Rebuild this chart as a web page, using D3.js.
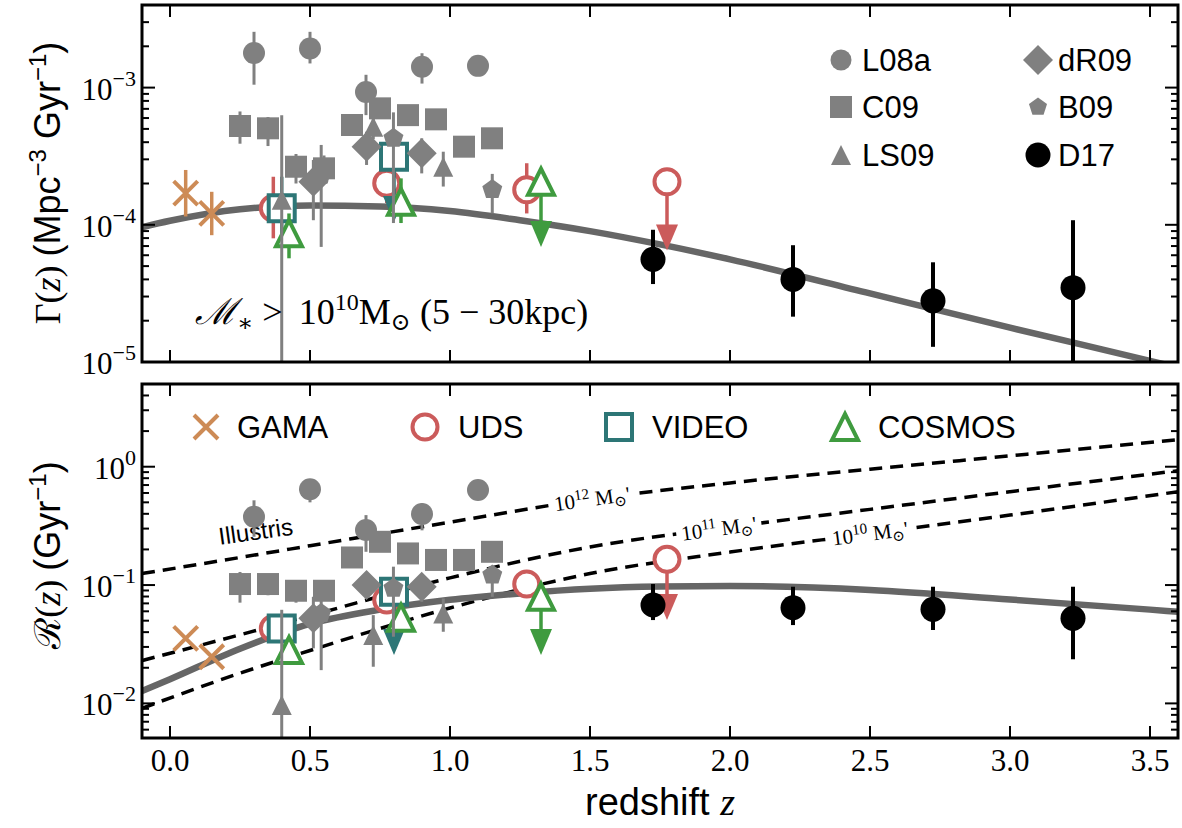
<!DOCTYPE html>
<html>
<head>
<meta charset="utf-8">
<script src="https://cdn.jsdelivr.net/npm/d3@7"></script>
<style>
  body { margin: 0; background: #fff; }
  svg { display: block; }
</style>
</head>
<body>
<svg id="chart" width="1182" height="828"></svg>
<script>
// Merger rate density (top) and merger rate (bottom) vs redshift.
// Rows are [z, value, errLow, errHigh]; null means no visible error bar.

// Literature points (grey)
const l08a_top = [[0.30, 1.79e-3, 1.05e-3, 2.55e-3], [0.50, 1.93e-3, 1.50e-3, 2.55e-3], [0.70, 9.3e-4, 6.3e-4, 1.24e-3], [0.90, 1.42e-3, 1.07e-3, 1.78e-3], [1.10, 1.44e-3, null, null]];
const l08a_bot = [[0.30, 0.378, 0.256, 0.52], [0.50, 0.644, 0.50, 0.70], [0.70, 0.292, 0.191, 0.39], [0.90, 0.398, 0.29, 0.49], [1.10, 0.636, null, null]];
const c09_top = [[0.25, 5.25e-4, 3.9e-4, 6.7e-4], [0.35, 5.05e-4, 3.75e-4, 6.1e-4], [0.45, 2.65e-4, 2.0e-4, 3.28e-4], [0.55, 2.58e-4, 2.0e-4, 3.2e-4], [0.65, 5.34e-4, null, null], [0.75, 7.06e-4, null, null], [0.85, 6.3e-4, null, null], [0.95, 5.87e-4, null, null], [1.05, 3.71e-4, null, null], [1.15, 4.27e-4, null, null]];
const c09_bot = [[0.25, 0.102, 0.071, 0.129], [0.35, 0.102, 0.082, 0.12], [0.45, 0.0895, 0.071, 0.1], [0.55, 0.0895, null, null], [0.65, 0.171, null, null], [0.75, 0.232, null, null], [0.85, 0.185, null, null], [0.95, 0.163, null, null], [1.05, 0.163, null, null], [1.15, 0.191, 0.17, 0.2]];
const ls09_top = [[0.399, 1.52e-4, 5e-6, 6.3e-4], [0.726, 5.19e-4, 4.2e-4, 6.6e-4], [0.976, 2.65e-4, 1.9e-4, 3.41e-4]];
const ls09_bot = [[0.399, 0.0097, 1e-3, 0.0618], [0.726, 0.0378, 0.0204, 0.0557], [0.976, 0.0576, 0.0403, 0.077]];
const dr09_top = [[0.512, 2.06e-4, 1.08e-4, 2.97e-4], [0.702, 3.71e-4, 2.73e-4, 4.77e-4], [0.899, 3.32e-4, 2.37e-4, 4.27e-4]];
const dr09_bot = [[0.512, 0.0523, 0.0292, 0.0796], [0.702, 0.100, 0.08, 0.12], [0.899, 0.0968, 0.0723, 0.115]];
const b09_top = [[0.54, 2.3e-4, 6.9e-5, 3.82e-4], [0.798, 4.27e-4, 1.03e-4, 6.6e-4], [1.151, 1.81e-4, 1.21e-4, 2.35e-4]];
const b09_bot = [[0.54, 0.0576, 0.0191, 0.0907], [0.798, 0.0938, 0.0366, 0.143], [1.151, 0.1216, 0.0796, 0.135]];

// This work (black)
const d17_top = [[1.725, 5.6e-5, 3.7e-5, 9.2e-5], [2.225, 4.0e-5, 2.14e-5, 7.1e-5], [2.725, 2.79e-5, 1.29e-5, 5.33e-5], [3.225, 3.48e-5, 5e-6, 1.08e-4]];
const d17_bot = [[1.725, 0.0678, 0.0506, 0.102], [2.225, 0.0643, 0.0459, 0.0968], [2.725, 0.0623, 0.0417, 0.0968], [3.225, 0.0523, 0.0236, 0.0968]];

// Survey points (coloured, open)
const gama_top = [[0.056, 1.70e-4, 1.15e-4, 2.51e-4], [0.149, 1.21e-4, 8.4e-5, 1.74e-4]];
const gama_bot = [[0.056, 0.0354, null, null], [0.149, 0.0248, null, null]];
const uds_top = [[0.369, 1.32e-4, 7.97e-5, 2.24e-4], [0.774, 2.01e-4, 1.44e-4, 2.6e-4], [1.274, 1.80e-4, 1.21e-4, 2.81e-4]];
const uds_bot = [[0.369, 0.043, null, null], [0.774, 0.0747, null, null], [1.274, 0.102, null, null]];
const video_top = [[0.399, 1.32e-4, 8e-5, 2.24e-4]];
const video_bot = [[0.399, 0.043, null, null]];
const cosmos_top = [[0.425, 8.66e-5, 5.7e-5, 1.21e-4], [0.825, 1.47e-4, 1.03e-4, 2.18e-4]];
const cosmos_bot = [[0.425, 0.0282, null, null], [0.825, 0.053, null, null]];

// Upper limits: [z, value, arrow tip]
const uds_lim_top = [[1.775, 2.06e-4, 6.5e-5]];
const uds_lim_bot = [[1.775, 0.165, 0.0506]];
const video_lim_top = [[0.80, 3.13e-4, 1.05e-4]];
const video_lim_bot = [[0.80, 0.0877, 0.0256]];
const cosmos_lim_top = [[1.325, 2.06e-4, 6.9e-5]];
const cosmos_lim_bot = [[1.325, 0.0796, 0.0256]];

// Best-fit curves
const fitZ = [-0.1, 0.0, 0.25, 0.5, 0.75, 1.0, 1.25, 1.5, 1.75, 2.0, 2.5, 3.0, 3.5, 3.6];
const fitGamma = [9.6e-5, 1.07e-4, 1.30e-4, 1.38e-4, 1.36e-4, 1.26e-4, 1.08e-4, 9.0e-5, 7.2e-5, 5.6e-5, 3.16e-5, 1.78e-5, 1.02e-5, 9.1e-6];
const fitRate = [0.0127, 0.0160, 0.029, 0.047, 0.062, 0.075, 0.085, 0.093, 0.097, 0.098, 0.091, 0.0755, 0.062, 0.0595];

// Illustris merger rates
const illZ = [-0.1, 0.25, 0.5, 1.0, 1.5, 2.0, 2.5, 3.0, 3.6];
const ill12 = [0.125, 0.171, 0.215, 0.34, 0.53, 0.73, 0.953, 1.236, 1.69];
const ill11 = [0.023, 0.038, 0.055, 0.115, 0.21, 0.309, 0.436, 0.615, 0.925];
const ill10 = [0.0091, 0.018, 0.028, 0.064, 0.125, 0.19, 0.272, 0.39, 0.615];
const illLabels = [["12", 1.507], ["11", 1.96], ["10", 2.50]];

const xTicks = [0.0, 0.5, 1.0, 1.5, 2.0, 2.5, 3.0, 3.5];

// Colours
const grey = "#808080";
const c_gama = "#cd8b56", c_uds = "#cb5b5b", c_video = "#2d7676", c_cosmos = "#3f9b3f";

const SANS = "'Liberation Sans', Arial, Helvetica, sans-serif";
const SERIF = "'Liberation Serif', 'DejaVu Serif', serif";

const X0 = 142, X1 = 1178;
const x = d3.scaleLinear().domain([-0.1, 3.6]).range([X0, X1]);
const yTop = d3.scaleLog().domain([1e-5, 4e-3]).range([362, 5]);
const yBot = d3.scaleLog().domain([5.1e-3, 5.0]).range([738, 384]);

const svg = d3.select("#chart");

// marker shapes, s = half size
const shapes = {
    circle: s => `M${s},0A${s},${s} 0 1,1 ${-s},0A${s},${s} 0 1,1 ${s},0Z`,
    square: s => `M${-s},${-s}H${s}V${s}H${-s}Z`,
    diamond: s => `M0,${-s}L${s},0L0,${s}L${-s},0Z`,
    triUp: s => `M0,${-s}L${s},${s}L${-s},${s}Z`,
    pentagon: s => d3.range(5).map(i => {
        const a = -Math.PI / 2 + i * 2 * Math.PI / 5;
        return (i ? "L" : "M") + (s * Math.cos(a)).toFixed(2) + "," + (s * Math.sin(a)).toFixed(2);
    }).join("") + "Z",
    cross: s => `M${-s},${-s}L${s},${s}M${-s},${s}L${s},${-s}`
};

function marker(g, cx, cy, st) {
    const open = st.open;
    g.append("path")
        .attr("d", shapes[st.shape](st.size))
        .attr("transform", `translate(${cx},${cy})`)
        .attr("fill", st.shape === "cross" ? "none" : (open ? "#fff" : st.color))
        .attr("stroke", (open || st.shape === "cross") ? st.color : "none")
        .attr("stroke-width", st.sw || 0);
}

function series(g, y, data, st) {
    data.forEach(d => {
        if (d[2] != null) {
            g.append("line")
                .attr("x1", x(d[0])).attr("x2", x(d[0]))
                .attr("y1", y(d[2])).attr("y2", y(d[3]))
                .attr("stroke", st.color).attr("stroke-width", st.ew || 3);
        }
    });
    data.forEach(d => marker(g, x(d[0]), y(d[1]), st));
}

function limits(g, y, data, st) {
    data.forEach(d => {
        const cx = x(d[0]), tip = y(d[2]);
        g.append("line")
            .attr("x1", cx).attr("x2", cx)
            .attr("y1", y(d[1])).attr("y2", tip - 20)
            .attr("stroke", st.color).attr("stroke-width", 3.5);
        g.append("path")
            .attr("d", `M${cx},${tip}L${cx - 11},${tip - 26}L${cx + 11},${tip - 26}Z`)
            .attr("fill", st.color);
    });
    data.forEach(d => marker(g, x(d[0]), y(d[1]), st));
}

const st = {
    l08a: { shape: "circle", size: 11, color: grey, ew: 3 },
    c09: { shape: "square", size: 11, color: grey, ew: 3 },
    ls09: { shape: "triUp", size: 10, color: grey, ew: 3 },
    dr09: { shape: "diamond", size: 15, color: grey, ew: 3 },
    b09: { shape: "pentagon", size: 10.5, color: grey, ew: 3 },
    d17: { shape: "circle", size: 12.5, color: "#000", ew: 4 },
    gama: { shape: "cross", size: 12, color: c_gama, sw: 4, ew: 3.5 },
    uds: { shape: "circle", size: 12.5, color: c_uds, open: true, sw: 4, ew: 3.5 },
    video: { shape: "square", size: 13, color: c_video, open: true, sw: 4, ew: 3.5 },
    cosmos: { shape: "triUp", size: 13, color: c_cosmos, open: true, sw: 4, ew: 3.5 }
};

function logTicks(scale) {
    const [a, b] = scale.domain();
    const out = [];
    for (let e = Math.floor(Math.log10(a)); e <= Math.ceil(Math.log10(b)); e++) {
        for (let k = 1; k < 10; k++) {
            const v = k * Math.pow(10, e);
            if (v >= a * 0.999 && v <= b * 1.001) out.push({ v, major: k === 1, e });
        }
    }
    return out;
}

function makePanel(id, y, showX) {
    const [yb, yt] = y.range();
    svg.append("clipPath").attr("id", id)
        .append("rect").attr("x", X0).attr("y", yt).attr("width", X1 - X0).attr("height", yb - yt);
    const plot = svg.append("g").attr("clip-path", `url(#${id})`);
    const axes = svg.append("g");

    // x ticks, inward on top and bottom
    xTicks.forEach(t => {
        [[yb, -12], [yt, 12]].forEach(([yy, len]) => {
            axes.append("line").attr("x1", x(t)).attr("x2", x(t)).attr("y1", yy).attr("y2", yy + len)
                .attr("stroke", "#000").attr("stroke-width", 2);
        });
        if (showX) {
            axes.append("text").attr("x", x(t)).attr("y", yb + 33)
                .attr("text-anchor", "middle").attr("font-family", SERIF).attr("font-size", 31)
                .text(t.toFixed(1));
        }
    });

    // y ticks, inward on left and right
    logTicks(y).forEach(t => {
        const len = t.major ? 13 : 7;
        [[X0, len], [X1, -len]].forEach(([xx, l]) => {
            axes.append("line").attr("x1", xx).attr("x2", xx + l).attr("y1", y(t.v)).attr("y2", y(t.v))
                .attr("stroke", "#000").attr("stroke-width", 2);
        });
        if (t.major) {
            const txt = axes.append("text").attr("x", X0 - 6).attr("y", y(t.v) + 12)
                .attr("text-anchor", "end").attr("font-family", SERIF).attr("font-size", 31);
            txt.append("tspan").text("10");
            txt.append("tspan").attr("dy", -14).attr("font-size", 22).text(t.e === 0 ? "0" : "\u2212" + (-t.e));
        }
    });

    axes.append("rect").attr("x", X0).attr("y", yt).attr("width", X1 - X0).attr("height", yb - yt)
        .attr("fill", "none").attr("stroke", "#000").attr("stroke-width", 3);
    return plot;
}

const pTop = makePanel("clipTop", yTop, false);
const pBot = makePanel("clipBot", yBot, true);

// Illustris dashed curves (bottom)
function interpLog(zs, vs, z) {
    const i = Math.max(0, Math.min(zs.length - 2, d3.bisectRight(zs, z) - 1));
    const t = (z - zs[i]) / (zs[i + 1] - zs[i]);
    return Math.pow(10, Math.log10(vs[i]) + t * (Math.log10(vs[i + 1]) - Math.log10(vs[i])));
}
const illLine = d3.line().x(d => x(d[0])).y(d => yBot(d[1])).curve(d3.curveMonotoneX);
[ill12, ill11, ill10].forEach(vals => {
    pBot.append("path").attr("d", illLine(illZ.map((z, i) => [z, vals[i]])))
        .attr("fill", "none").attr("stroke", "#000").attr("stroke-width", 3.5)
        .attr("stroke-dasharray", "13,8");
});
[ill12, ill11, ill10].forEach((vals, k) => {
    const [pw, z] = illLabels[k];
    const px = x(z), py = yBot(interpLog(illZ, vals, z));
    const ang = Math.atan2(yBot(interpLog(illZ, vals, z + 0.1)) - yBot(interpLog(illZ, vals, z - 0.1)),
        x(z + 0.1) - x(z - 0.1)) * 180 / Math.PI;
    const lg = pBot.append("g").attr("transform", `translate(${px},${py}) rotate(${ang})`);
    const bg = lg.append("rect").attr("fill", "#fff");
    const t = lg.append("text").attr("text-anchor", "middle").attr("y", 7)
        .attr("font-family", SERIF).attr("font-size", 21);
    t.append("tspan").text("10");
    t.append("tspan").attr("dy", -8).attr("font-size", 15).text(pw);
    t.append("tspan").attr("dy", 8).text(" M");
    t.append("tspan").attr("dy", 4).attr("font-size", 15).text("\u2299");
    t.append("tspan").attr("dy", -4).text("'");
    const bb = t.node().getBBox();
    bg.attr("x", bb.x - 5).attr("y", bb.y).attr("width", bb.width + 10).attr("height", bb.height);
});
{
    const z = 0.31, px = x(z), py = yBot(interpLog(illZ, ill12, z)) - 15;
    pBot.append("text").attr("transform", `translate(${px},${py}) rotate(-8)`)
        .attr("text-anchor", "middle").attr("font-family", SANS).attr("font-size", 24)
        .text("Illustris");
}

// Best-fit curves
const fitLineTop = d3.line().x((z, i) => x(z)).y((z, i) => yTop(fitGamma[i])).curve(d3.curveMonotoneX);
const fitLineBot = d3.line().x((z, i) => x(z)).y((z, i) => yBot(fitRate[i])).curve(d3.curveMonotoneX);
pTop.append("path").attr("d", fitLineTop(fitZ)).attr("fill", "none").attr("stroke", "#666").attr("stroke-width", 6.5);
pBot.append("path").attr("d", fitLineBot(fitZ)).attr("fill", "none").attr("stroke", "#666").attr("stroke-width", 6.5);

// Survey points
[[pTop, yTop, gama_top, uds_top, video_top, cosmos_top, uds_lim_top, video_lim_top, cosmos_lim_top],
 [pBot, yBot, gama_bot, uds_bot, video_bot, cosmos_bot, uds_lim_bot, video_lim_bot, cosmos_lim_bot]]
    .forEach(([g, y, ga, ud, vi, co, udl, vil, col]) => {
        series(g, y, ga, st.gama);
        series(g, y, ud, st.uds);
        limits(g, y, udl, st.uds);
        series(g, y, vi, st.video);
        limits(g, y, vil, st.video);
        series(g, y, co, st.cosmos);
        limits(g, y, col, st.cosmos);
    });

// Literature + this work
[[pTop, yTop, l08a_top, c09_top, ls09_top, dr09_top, b09_top, d17_top],
 [pBot, yBot, l08a_bot, c09_bot, ls09_bot, dr09_bot, b09_bot, d17_bot]]
    .forEach(([g, y, a, b, c, d, e, f]) => {
        series(g, y, a, st.l08a);
        series(g, y, b, st.c09);
        series(g, y, c, st.ls09);
        series(g, y, d, st.dr09);
        series(g, y, e, st.b09);
        series(g, y, f, st.d17);
    });

// Legends
function legendItem(cx, cy, style, label, tx) {
    marker(svg, cx, cy, style);
    svg.append("text").attr("x", tx).attr("y", cy + 11)
        .attr("font-family", SANS).attr("font-size", 31).text(label);
}
legendItem(841, 60, { ...st.l08a, size: 10.5 }, "L08a", 862);
legendItem(841, 107, st.c09, "C09", 862);
legendItem(841, 155, st.ls09, "LS09", 862);
legendItem(1038, 60, st.dr09, "dR09", 1058);
legendItem(1038, 107, { ...st.b09, size: 9.5 }, "B09", 1058);
legendItem(1038, 155, st.d17, "D17", 1058);

legendItem(206, 427, st.gama, "GAMA", 237);
legendItem(425, 427, st.uds, "UDS", 458);
legendItem(619, 427, st.video, "VIDEO", 652);
legendItem(845, 427, st.cosmos, "COSMOS", 878);

// Annotation in top panel
{
    const t = svg.append("text").attr("x", 195).attr("y", 324)
        .attr("font-family", SERIF).attr("font-size", 36);
    t.append("tspan").attr("font-style", "italic").text("\u2133");
    t.append("tspan").attr("dy", 7).attr("font-size", 24).text("\u2217");
    t.append("tspan").attr("dy", -7).text(" >\u2009 10");
    t.append("tspan").attr("dy", -14).attr("font-size", 24).text("10");
    t.append("tspan").attr("dy", 14).text("M");
    t.append("tspan").attr("dy", 6).attr("font-size", 24).text("\u2299");
    t.append("tspan").attr("dy", -6).text(" (5 \u2212 30kpc)");
}

// Axis labels
function yLabel(cy, parts) {
    const t = svg.append("text")
        .attr("transform", `translate(60,${cy}) rotate(-90)`)
        .attr("text-anchor", "middle").attr("font-size", 36);
    parts.forEach(p => {
        const s = t.append("tspan").attr("font-family", p.f).text(p.t);
        if (p.i) s.attr("font-style", "italic");
        if (p.dy) s.attr("dy", p.dy);
        if (p.fs) s.attr("font-size", p.fs);
    });
}
yLabel(183, [
    { t: "\u0393(", f: SERIF }, { t: "z", f: SERIF, i: true }, { t: ") ", f: SERIF },
    { t: "(Mpc", f: SANS }, { t: "\u22123", f: SANS, dy: -14, fs: 24 },
    { t: " Gyr", f: SANS, dy: 14 }, { t: "\u22121", f: SANS, dy: -14, fs: 24 }, { t: ")", f: SANS, dy: 14 }
]);
yLabel(555, [
    { t: "\u211B(", f: SERIF }, { t: "z", f: SERIF, i: true }, { t: ") ", f: SERIF },
    { t: "(Gyr", f: SANS }, { t: "\u22121", f: SANS, dy: -14, fs: 24 }, { t: ")", f: SANS, dy: 14 }
]);

{
    const t = svg.append("text").attr("x", (X0 + X1) / 2).attr("y", 815)
        .attr("text-anchor", "middle").attr("font-size", 38);
    t.append("tspan").attr("font-family", SANS).text("redshift ");
    t.append("tspan").attr("font-family", SERIF).attr("font-style", "italic").text("z");
}
</script>
</body>
</html>
